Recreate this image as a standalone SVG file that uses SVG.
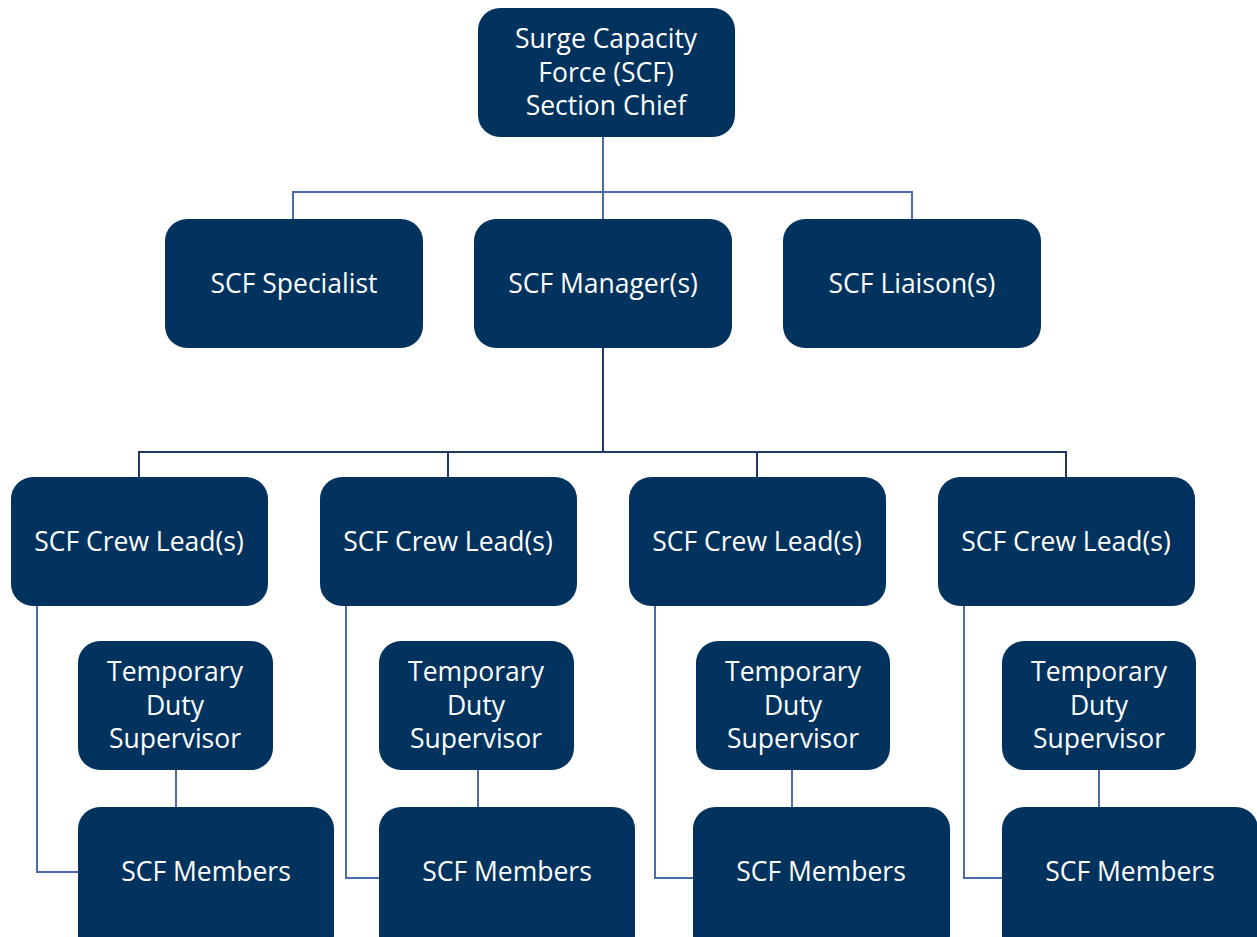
<svg xmlns="http://www.w3.org/2000/svg" width="1257" height="937" viewBox="0 0 1257 937">
<style>
.n{fill:#02335F;}
.t{fill:#FFFFFF;font-family:"Open Sans","Noto Sans",sans-serif;font-size:26.5px;text-anchor:middle;}
.c{fill:none;stroke:#4A6CA8;stroke-width:2;}
.d{fill:none;stroke:#1F3864;stroke-width:2;}
</style>
<rect width="1257" height="937" fill="#FFFFFF"/>
<g id="connectors">
<path class="c" d="M603,136 V219 M293,219 V192 H912 V219"/>
<path class="d" d="M603,348 V452 M139,478 V452 H1066 V478 M448,452 V478 M757,452 V478"/>
<path class="c" d="M37,606 V872 H78 M346,606 V878 H379 M655,606 V878 H693 M964,606 V878 H1002"/>
<path class="c" d="M176,770 V807 M478,770 V807 M792,770 V807 M1099,770 V807"/>
</g>
<g id="chief"><rect class="n" x="478" y="8" width="257" height="129" rx="22"/>
<text class="t" x="606" y="48">Surge Capacity</text><text class="t" x="606" y="82">Force (SCF)</text><text class="t" x="606" y="115">Section Chief</text></g>
<g id="specialist"><rect class="n" x="165" y="219" width="258" height="129" rx="22"/><text class="t" x="294" y="293">SCF Specialist</text></g>
<g id="manager"><rect class="n" x="474" y="219" width="258" height="129" rx="22"/><text class="t" x="603" y="293">SCF Manager(s)</text></g>
<g id="liaison"><rect class="n" x="783" y="219" width="258" height="129" rx="22"/><text class="t" x="912" y="293">SCF Liaison(s)</text></g>
<g id="crew1"><rect class="n" x="11" y="477" width="257" height="129" rx="22"/><text class="t" x="139" y="551">SCF Crew Lead(s)</text></g>
<g id="crew2"><rect class="n" x="320" y="477" width="257" height="129" rx="22"/><text class="t" x="448" y="551">SCF Crew Lead(s)</text></g>
<g id="crew3"><rect class="n" x="629" y="477" width="257" height="129" rx="22"/><text class="t" x="757" y="551">SCF Crew Lead(s)</text></g>
<g id="crew4"><rect class="n" x="938" y="477" width="257" height="129" rx="22"/><text class="t" x="1066" y="551">SCF Crew Lead(s)</text></g>
<g id="tds1"><rect class="n" x="78" y="641" width="195" height="129" rx="22"/><text class="t" x="175" y="681">Temporary</text><text class="t" x="175" y="715">Duty</text><text class="t" x="175" y="748">Supervisor</text></g>
<g id="tds2"><rect class="n" x="379" y="641" width="195" height="129" rx="22"/><text class="t" x="476" y="681">Temporary</text><text class="t" x="476" y="715">Duty</text><text class="t" x="476" y="748">Supervisor</text></g>
<g id="tds3"><rect class="n" x="696" y="641" width="194" height="129" rx="22"/><text class="t" x="793" y="681">Temporary</text><text class="t" x="793" y="715">Duty</text><text class="t" x="793" y="748">Supervisor</text></g>
<g id="tds4"><rect class="n" x="1002" y="641" width="194" height="129" rx="22"/><text class="t" x="1099" y="681">Temporary</text><text class="t" x="1099" y="715">Duty</text><text class="t" x="1099" y="748">Supervisor</text></g>
<g id="members1"><rect class="n" x="78" y="807" width="256" height="150" rx="22"/><text class="t" x="206" y="881">SCF Members</text></g>
<g id="members2"><rect class="n" x="379" y="807" width="256" height="150" rx="22"/><text class="t" x="507" y="881">SCF Members</text></g>
<g id="members3"><rect class="n" x="693" y="807" width="257" height="150" rx="22"/><text class="t" x="821" y="881">SCF Members</text></g>
<g id="members4"><rect class="n" x="1002" y="807" width="256" height="150" rx="22"/><text class="t" x="1130" y="881">SCF Members</text></g>
</svg>
